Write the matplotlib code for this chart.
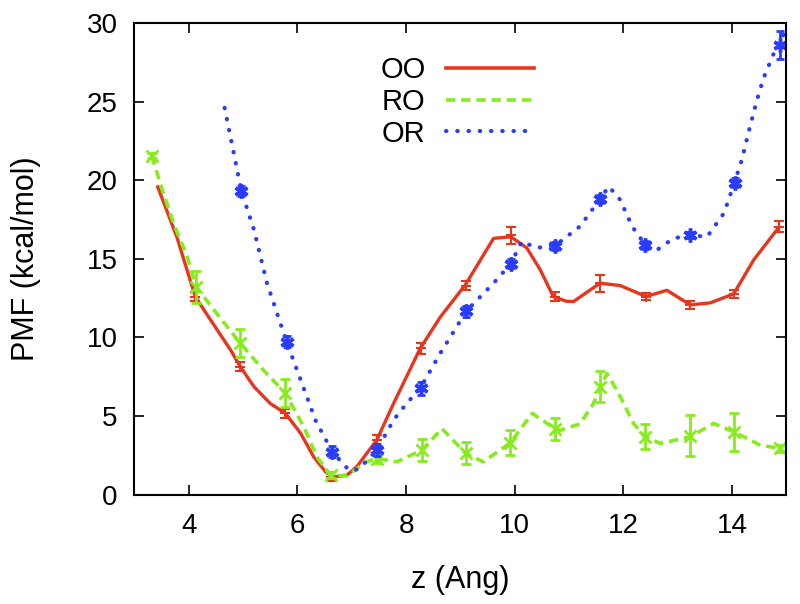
import matplotlib
matplotlib.use('Agg')
import matplotlib.pyplot as plt
from matplotlib.lines import Line2D

plt.rcParams['font.family'] = ['Liberation Sans', 'DejaVu Sans']

# OO curve (red, solid)
oo_x = [3.43, 3.78, 4.12, 4.28, 4.52, 4.77, 4.95, 5.2, 5.5, 5.78, 6.06, 6.3, 6.52, 6.67, 6.91,
        7.09, 7.46, 7.77, 8.26, 8.63, 9.09, 9.61, 9.93, 10.22, 10.47, 10.71, 10.95, 11.08,
        11.57, 11.94, 12.42, 12.8, 13.23, 13.6, 14.03, 14.4, 14.86]
oo_y = [19.57, 16.4, 12.6, 11.75, 10.5, 9.2, 8.14, 6.87, 5.8, 5.17, 3.9, 2.4, 1.45, 1.13, 1.24,
        1.77, 3.47, 5.8, 9.3, 11.3, 13.34, 16.3, 16.4, 15.7, 14.3, 12.6, 12.3, 12.28,
        13.45, 13.3, 12.6, 13.0, 12.07, 12.2, 12.77, 14.94, 17.0]
oo_ex = [4.12, 4.95, 5.78, 6.62, 7.46, 8.28, 9.1, 9.93, 10.75, 11.57, 12.42, 13.23, 14.04, 14.86]
oo_ey = [12.6, 8.14, 5.17, 1.15, 3.47, 9.3, 13.3, 16.5, 12.6, 13.45, 12.6, 12.07, 12.77, 17.05]
oo_err = [0.3, 0.3, 0.3, 0.3, 0.35, 0.35, 0.3, 0.55, 0.3, 0.55, 0.2, 0.25, 0.25, 0.35]

# RO curve (green, dashed)
ro_x = [3.32, 3.51, 3.72, 3.97, 4.14, 4.52, 4.95, 5.38, 5.78, 6.12, 6.36, 6.61, 6.91, 7.27,
        7.46, 7.83, 8.29, 8.66, 9.1, 9.42, 9.92, 10.32, 10.74, 10.84, 11.2, 11.45, 11.57,
        11.7, 11.91, 12.19, 12.4, 12.68, 13.23, 13.66, 14.03, 14.52, 14.89]
ro_y = [21.56, 19.4, 17.27, 15.15, 13.2, 11.5, 9.63, 7.9, 6.45, 4.3, 2.4, 1.24, 1.2, 2.09,
        2.3, 2.09, 2.83, 4.2, 2.62, 2.09, 3.3, 5.17, 4.2, 4.1, 4.5, 5.8, 6.87,
        7.7, 6.45, 4.5, 3.68, 3.26, 3.68, 4.53, 4.0, 3.15, 2.94]
ro_ex = [3.32, 4.14, 4.95, 5.78, 6.61, 7.46, 8.29, 9.1, 9.92, 10.74, 11.57, 12.4, 13.23, 14.03, 14.89]
ro_ey = [21.56, 13.2, 9.63, 6.45, 1.24, 2.3, 2.83, 2.62, 3.3, 4.2, 6.87, 3.68, 3.75, 4.0, 2.94]
ro_err = [0.15, 1.0, 0.9, 0.9, 0.2, 0.3, 0.7, 0.7, 0.8, 0.7, 1.0, 0.8, 1.3, 1.2, 0.2]

# OR curve (blue, dotted)
or_x = [4.66, 4.97, 5.2, 5.44, 5.8, 6.06, 6.33, 6.64, 6.92, 7.02, 7.15, 7.46, 7.77, 8.01, 8.26,
        8.63, 8.9, 9.1, 9.61, 9.93, 10.13, 10.4, 10.74, 11.2, 11.57, 11.73, 11.94, 12.16,
        12.4, 12.62, 12.92, 13.24, 13.54, 13.85, 14.04, 14.18, 14.3, 14.45, 14.58, 14.76,
        14.89, 14.95]
or_y = [24.6, 19.3, 16.85, 13.45, 9.73, 7.3, 4.75, 2.73, 1.67, 1.5, 1.7, 2.83, 4.75, 5.8, 6.76,
        9.0, 10.5, 11.65, 13.45, 14.7, 16.1, 15.7, 15.83, 17.06, 18.8, 19.6, 18.76, 17.06,
        15.9, 15.57, 16.3, 16.5, 16.4, 17.9, 19.8, 21.3, 23.0, 25.0, 26.5, 28.0,
        28.5, 29.3]
or_ex = [4.97, 5.8, 6.64, 7.46, 8.27, 9.1, 9.93, 10.74, 11.57, 12.4, 13.23, 14.05, 14.89]
or_ey = [19.3, 9.73, 2.73, 2.83, 6.76, 11.65, 14.7, 15.83, 18.8, 15.9, 16.5, 19.85, 28.6]
or_err = [0.3, 0.35, 0.35, 0.4, 0.4, 0.35, 0.3, 0.25, 0.25, 0.25, 0.2, 0.3, 0.9]

red = '#e8361e'
green = '#86ec1e'
blue = '#2a3cff'

fig = plt.figure(figsize=(8, 6.04), dpi=100)
ax = fig.add_axes([0.168, 0.181, 0.815, 0.781])

ax.plot(oo_x, oo_y, '-', color=red, lw=2.4, solid_joinstyle='round')
ax.errorbar(oo_ex, oo_ey, yerr=oo_err, fmt='none', ecolor=red,
            elinewidth=1.5, capsize=3.5, capthick=1.5)
ax.plot(oo_ex, oo_ey, ls='none', marker='+', color=red, ms=7, mew=1.5)

ax.plot(ro_x, ro_y, color=green, lw=2.6, linestyle=(0, (2.6, 1.6)))
ax.errorbar(ro_ex, ro_ey, yerr=ro_err, fmt='none', ecolor=green,
            elinewidth=2, capsize=3.5, capthick=2)
ax.plot(ro_ex, ro_ey, ls='none', marker='x', color=green, ms=8, mew=2)

ax.plot(or_x, or_y, color=blue, lw=3, linestyle=(0, (0.1, 2.6)), dash_capstyle='round')
ax.errorbar(or_ex, or_ey, yerr=or_err, fmt='none', ecolor=blue,
            elinewidth=2, capsize=3, capthick=2)
ax.plot(or_ex, or_ey, ls='none', marker=(6, 2, 0), color=blue, ms=10, mew=2.5)

ax.set_xlim(3, 15)
ax.set_ylim(0, 30)
ax.set_xticks([4, 6, 8, 10, 12, 14])
ax.set_yticks([0, 5, 10, 15, 20, 25, 30])
ax.tick_params(direction='in', top=True, right=True, length=7, width=1.2, labelsize=20)
ax.tick_params(axis='x', pad=13.4)
ax.tick_params(axis='y', pad=12.2)
for s in ax.spines.values():
    s.set_linewidth(1.5)

ax.set_xlabel('z (Ang)', fontsize=22)
ax.set_ylabel('PMF (kcal/mol)', fontsize=22)
ax.xaxis.set_label_coords(0.5, -0.149)
ax.yaxis.set_label_coords(-0.143, 0.5)

handles = [Line2D([], [], color=red, lw=2.6),
           Line2D([], [], color=green, lw=2.6, linestyle=(0, (2.6, 1.6))),
           Line2D([], [], color=blue, lw=3, linestyle=(0, (0.1, 2.6)), dash_capstyle='round')]
ax.legend(handles, ['OO', 'RO', 'OR'], loc='upper left', bbox_to_anchor=(0.377, 0.93),
          frameon=False, markerfirst=False, fontsize=21, handlelength=3.0,
          handletextpad=0.72, labelspacing=0.13, borderpad=0, borderaxespad=0)

fig.savefig('out.png', dpi=100)
